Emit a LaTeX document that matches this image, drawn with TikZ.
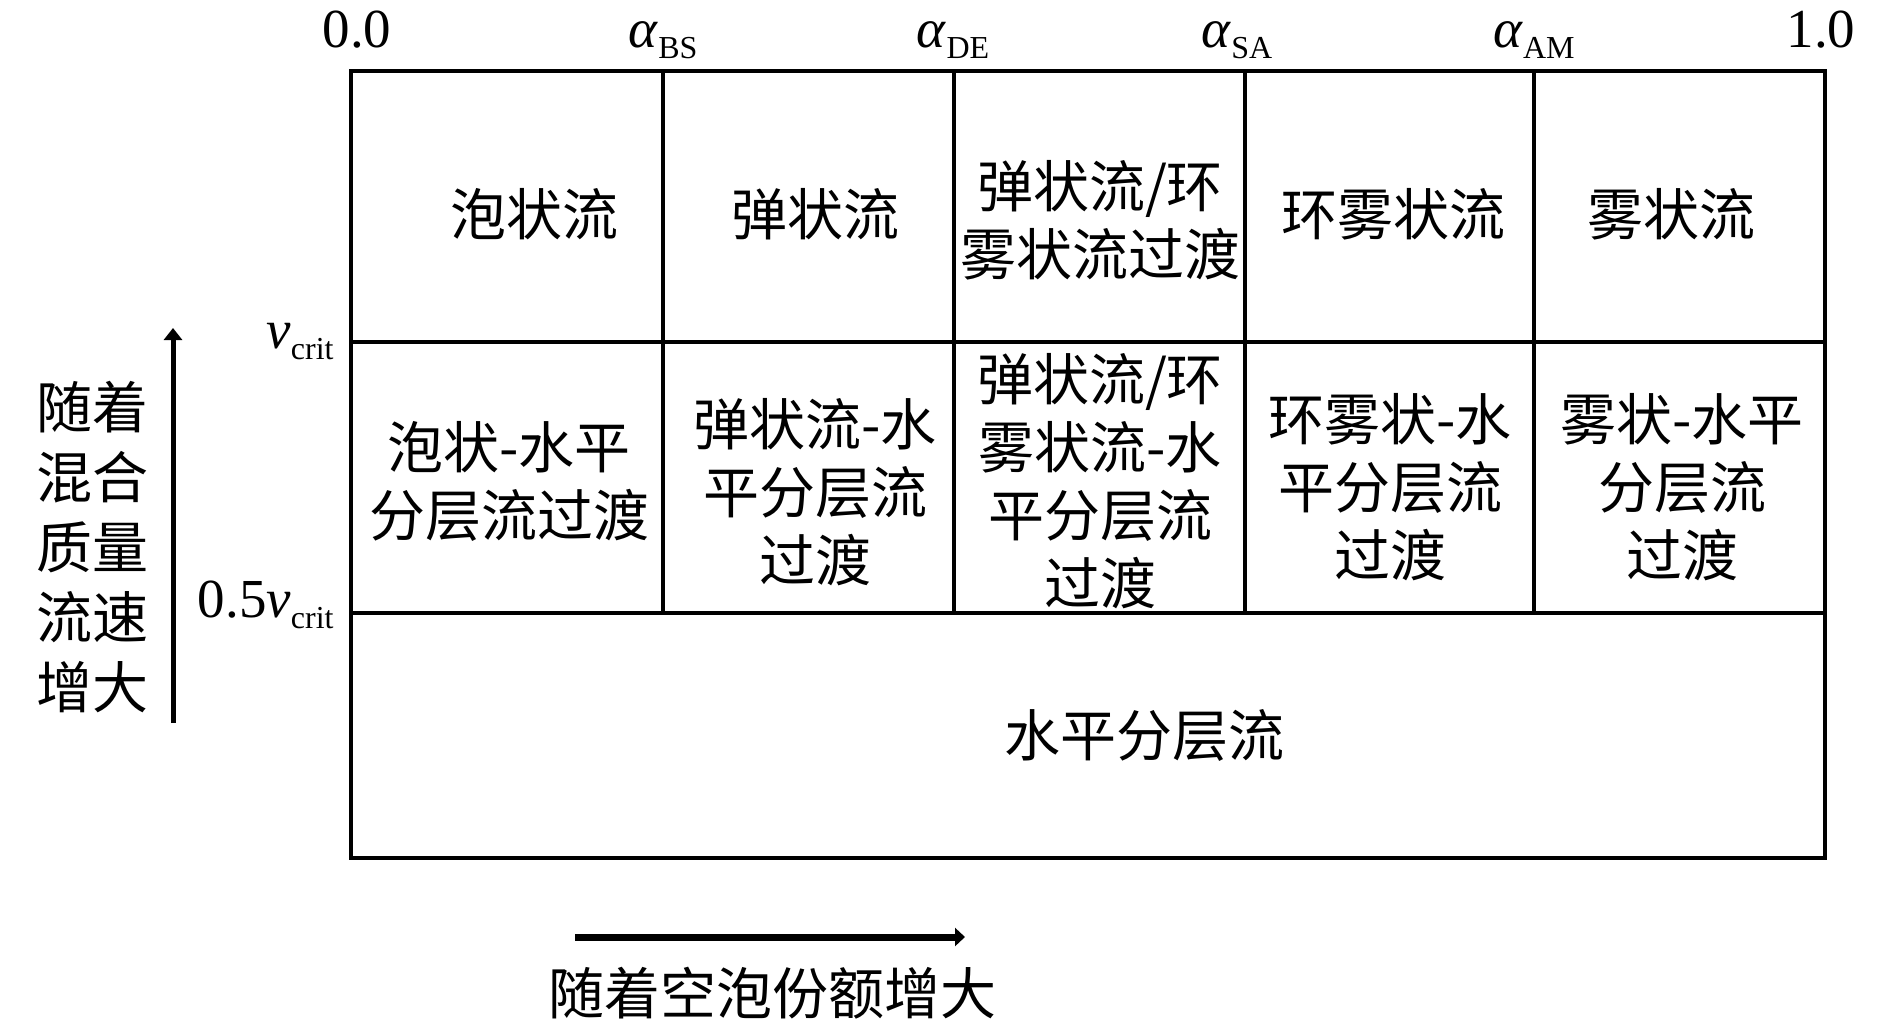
\documentclass[tikz,border=0pt]{standalone}
\usepackage{fontspec}
\setmainfont{Liberation Serif}
\newfontfamily\cjk{Noto Sans CJK SC}
\usetikzlibrary{arrows.meta}
\newcommand\subl[1]{\raisebox{-5.5pt}{\fontsize{16}{16}\selectfont #1}}
\begin{document}
\begin{tikzpicture}[x=0.5pt,y=-0.5pt,
  grid/.style={line width=1.9pt, line cap=rect},
  cell/.style={font=\cjk\fontsize{28}{34}\selectfont, align=center, inner sep=0pt},
  lab/.style={font=\fontsize{27.5}{27}\selectfont, inner sep=0pt, anchor=base},
  vlab/.style={font=\fontsize{27.5}{27}\selectfont, inner sep=0pt, anchor=base east}]
\path[use as bounding box] (0,0) rectangle (1890,1023);
% grid
\draw[grid] (351,71) rectangle (1825,858);
\draw[grid] (351,342) -- (1825,342);
\draw[grid] (351,613) -- (1825,613);
\foreach \x in {663,954,1245,1534} \draw[grid] (\x,71) -- (\x,613);
% top labels
\node[lab] (t0) at (357,47) {0.0};
\node[lab] (t1) at (663,47) {\textit{α}\subl{BS}};
\node[lab] (t2) at (953,47) {\textit{α}\subl{DE}};
\node[lab] (t3) at (1237,47) {\textit{α}\subl{SA}};
\node[lab] (t4) at (1534,47) {\textit{α}\subl{AM}};
\node[lab] (t5) at (1821,47) {1.0};
% side labels
\node[vlab] (v1) at (334,348) {\textit{v}\subl{crit}};
\node[vlab] (v2) at (334,617) {0.5\textit{v}\subl{crit}};
% row 1
\node[cell] (a1) at (534,214) {泡状流};
\node[cell] (a2) at (815,214) {弹状流};
\node[cell] (a3) at (1100,220) {弹状流/环\\雾状流过渡};
\node[cell] (a4) at (1393,214) {环雾状流};
\node[cell] (a5) at (1671,214) {雾状流};
% row 2
\node[cell] (b1) at (509,481) {泡状-水平\\分层流过渡};
\node[cell] (b2) at (815,492) {弹状流-水\\平分层流\\过渡};
\node[cell] (b3) at (1100,481) {弹状流/环\\雾状流-水\\平分层流\\过渡};
\node[cell] (b4) at (1390,487) {环雾状-水\\平分层流\\过渡};
\node[cell] (b5) at (1682,487) {雾状-水平\\分层流\\过渡};
% row 3
\node[cell] (c1) at (1144,735) {水平分层流};
% axis texts
\node[cell, font=\cjk\fontsize{28}{35}\selectfont] (ly) at (92,547) {随着\\混合\\质量\\流速\\增大};
\node[cell] (lx) at (772,993) {随着空泡份额增大};
% arrows
\coordinate (ya) at (173,723);
\coordinate (yb) at (173,328);
\coordinate (xa) at (575,937);
\coordinate (xb) at (965,937);
\draw[line width=2.5pt, -{Triangle[length=6pt,width=9pt]}] (ya) -- (yb);
\draw[line width=3.5pt, -{Triangle[length=5pt,width=9pt]}] (xa) -- (xb);
\end{tikzpicture}
\end{document}
